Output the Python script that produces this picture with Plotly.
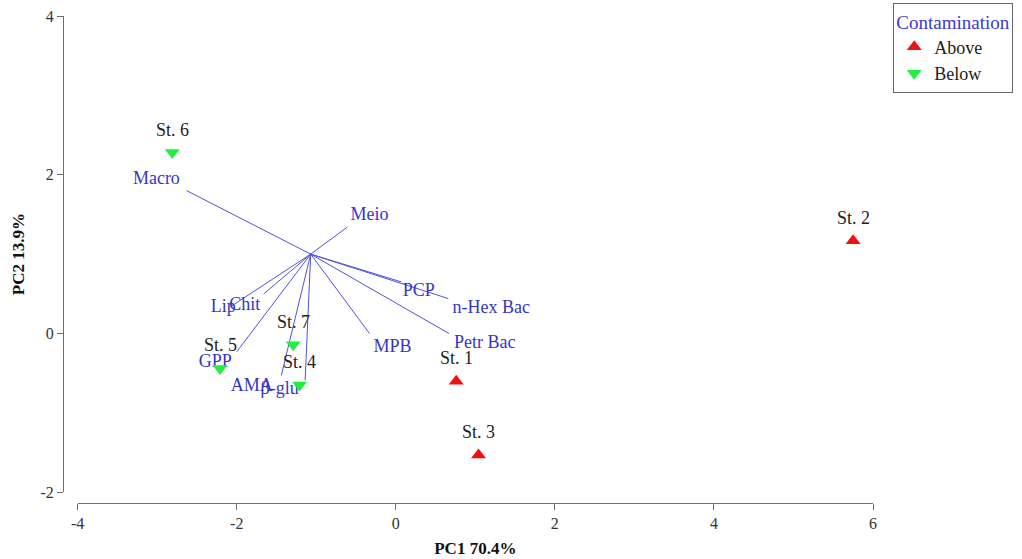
import plotly.graph_objects as go

# ---- data ----
stations = ["St. 1", "St. 2", "St. 3", "St. 4", "St. 5", "St. 6", "St. 7"]
pc1 = [0.76, 5.75, 1.04, -1.21, -2.21, -2.81, -1.29]
pc2 = [-0.60, 1.17, -1.53, -0.65, -0.44, 2.28, -0.14]
contamination = ["Above", "Above", "Above", "Below", "Below", "Below", "Below"]

variables = ["Macro", "Meio", "PCP", "n-Hex Bac", "Petr Bac", "MPB",
             "Chit", "Lip", "GPP", "AMA", "β-glu"]
origin_x = -1.07
origin_y = 1.0
load_x = [-2.63, -0.61, 0.07, 0.66, 0.67, -0.33, -1.66, -2.06, -2.00, -1.44, -1.14]
load_y = [1.80, 1.34, 0.65, 0.44, 0.00, 0.00, 0.50, 0.35, -0.23, -0.53, -0.59]
label_x = [-3.01, -0.33, 0.29, 1.20, 1.12, -0.04, -1.90, -2.17, -2.27, -1.81, -1.46]
label_y = [1.94, 1.49, 0.53, 0.31, -0.13, -0.18, 0.35, 0.33, -0.37, -0.67, -0.71]

x_ticks = [-4, -2, 0, 2, 4, 6]
x_tick_labels = ["-4", "-2", "0", "2", "4", "6"]
y_ticks = [-2, 0, 2, 4]
y_tick_labels = ["-2", "0", "2", "4"]

SERIF = "Liberation Serif"
LINE_BLUE = "#5252d8"
TEXT_BLUE = "#3636c4"

fig = go.Figure()

# loading vectors
lx, ly = [], []
for ex, ey in zip(load_x, load_y):
    lx += [origin_x, ex, None]
    ly += [origin_y, ey, None]
fig.add_trace(go.Scatter(x=lx, y=ly, mode="lines",
                         line=dict(color=LINE_BLUE, width=1),
                         showlegend=False, hoverinfo="skip"))

# loading labels
fig.add_trace(go.Scatter(x=label_x, y=label_y, mode="text", text=variables,
                         textfont=dict(family=SERIF, size=18, color=TEXT_BLUE),
                         showlegend=False, hoverinfo="skip"))

# station markers by group
styles = {"Above": ("triangle-up", "#ee1111"), "Below": ("triangle-down", "#22ee44")}
for grp in ["Above", "Below"]:
    idx = [i for i, c in enumerate(contamination) if c == grp]
    sym, col = styles[grp]
    fig.add_trace(go.Scatter(
        x=[pc1[i] for i in idx], y=[pc2[i] for i in idx],
        mode="markers", name=grp,
        marker=dict(symbol=sym, color=col, size=13, line=dict(width=0)),
    ))

# station labels
for s, xv, yv in zip(stations, pc1, pc2):
    fig.add_annotation(x=xv, y=yv, text=s, showarrow=False, yshift=23,
                       font=dict(family=SERIF, size=18, color="#222222"))

axis_common = dict(
    showline=True, linecolor="#6e6e6e", linewidth=1,
    ticks="outside", ticklen=6, tickcolor="#6e6e6e", tickwidth=1,
    showgrid=False, zeroline=False,
    tickfont=dict(family=SERIF, size=16, color="#333333"),
    anchor="free", position=0, tickmode="array",
)

fig.update_layout(
    width=1022, height=559,
    margin=dict(l=63, r=149, t=16, b=56, autoexpand=False),
    paper_bgcolor="white", plot_bgcolor="white",
    xaxis=dict(range=[-4, 6], domain=[0.0181, 1], tickvals=x_ticks, ticktext=x_tick_labels,
               title=dict(text="<b>PC1 70.4%</b>", standoff=10,
                          font=dict(family=SERIF, size=17, color="#111111")),
               **axis_common),
    yaxis=dict(range=[-2, 4], domain=[0.022, 1], tickvals=y_ticks, ticktext=y_tick_labels,
               title=dict(text="<b>PC2 13.9%</b>", standoff=10,
                          font=dict(family=SERIF, size=17, color="#111111")),
               **axis_common),
    legend=dict(
        title=dict(text="Contamination", font=dict(family=SERIF, size=19, color="#3a3ad0")),
        font=dict(family=SERIF, size=18, color="#222222"),
        x=1.025, y=1.027, xanchor="left", yanchor="top",
        bordercolor="#666666", borderwidth=1, bgcolor="white",
        itemwidth=30, tracegroupgap=0,
    ),
    showlegend=True,
)

fig.write_html("out.html")
